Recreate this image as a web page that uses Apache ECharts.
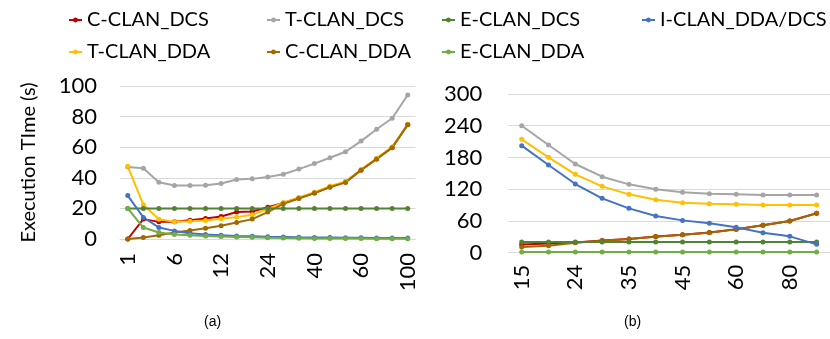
<!DOCTYPE html>
<html>
<head>
<meta charset="utf-8">
<script src="https://cdn.jsdelivr.net/npm/echarts@6/dist/echarts.min.js"></script>
<style>html,body{margin:0;padding:0;background:#fff}#c{width:830px;height:339px}</style>
</head>
<body>
<div id="c"></div>
<script>
// ---- data ----
const catsA = ['1','2','4','6','8','10','12','16','20','24','28','32','40','45','50','60','70','80','100'];
const catsB = ['15','20','24','30','35','40','45','50','60','70','80','90'];

const names = ['C-CLAN_DCS','T-CLAN_DCS','T-CLAN_DDA','C-CLAN_DDA','E-CLAN_DCS','I-CLAN_DDA/DCS','E-CLAN_DDA'];
const colors = ['#C00000','#A5A5A5','#FFC000','#A06A00','#548235','#4472C4','#70AD47'];

// chart (a)
const aC_DCS = [0, 13, 11.2, 11.2, 12.3, 13.4, 14.7, 17.6, 18, 20.7, 23.5, 26.8, 30.1, 34.1, 37.2, 45.1, 52.5, 59.8, 74.8];
const aT_DCS = [47, 46.2, 37.1, 35, 35, 35.2, 36.3, 38.9, 39.3, 40.5, 42.3, 45.7, 49.3, 53.1, 57, 64, 71.7, 78.9, 94.1];
const aT_DDA = [47.5, 22.4, 12.9, 11.2, 11.6, 12.1, 13.2, 14.3, 15.8, 19.6, 23.8, 27.2, 30.6, 34.5, 37.6, 45.4, 52.8, 60.2, 75];
const aC_DDA = [0, 1, 2.4, 4.2, 5.5, 7, 8.6, 10.8, 13, 17.6, 23, 26.5, 30, 33.8, 37, 45, 52.2, 59.7, 74.6];
const aE_DCS = [20, 20, 20, 20, 20, 20, 20, 20, 20, 20, 20, 20, 20, 20, 20, 20, 20, 20, 20];
const aI_DDA = [28.4, 14.1, 7.5, 5.3, 3.8, 3, 2.5, 2, 1.8, 1.5, 1.3, 1.1, 1, 0.9, 0.8, 0.8, 0.7, 0.7, 0.7];
const aE_DDA = [20, 7.5, 4.2, 3, 2.4, 2, 1.6, 1.3, 1.1, 0.8, 0.6, 0.5, 0.4, 0.3, 0.3, 0.3, 0.2, 0.2, 0.2];

// chart (b)
const bC_DCS = [15.5, 17.5, 19.5, 23, 26, 30.5, 34, 38, 44.2, 51.8, 60, 74.5];
const bT_DCS = [240, 203.6, 167.7, 143.7, 129.2, 119.8, 114.1, 111.6, 110.3, 109, 109, 109];
const bT_DDA = [214.3, 180.3, 148.1, 125.4, 110.3, 100.2, 94.5, 92.7, 91.4, 90.1, 90.1, 90.1];
const bC_DDA = [10.7, 13.2, 18.9, 22.7, 25.8, 30.3, 34, 37.8, 44.1, 51.7, 59.9, 74.4];
const bE_DCS = [20, 20, 20, 20, 20, 20, 20, 20, 20, 20, 20, 20];
const bI_DDA = [202.3, 165.8, 129.8, 102.7, 83.8, 69.3, 61.1, 55.5, 47.9, 37.8, 30.9, 15.8];
const bE_DDA = [1.5, 1.5, 1.5, 1.5, 1.5, 1.5, 1.5, 1.5, 1.5, 1.5, 1.5, 1.5];

const yTicksA = {min: 0, max: 100, interval: 20};
const yTicksB = {min: 0, max: 300, interval: 60};

// ---- build ----
const FONT = 'Lato';
const setA = [aC_DCS, aT_DCS, aT_DDA, aC_DDA, aE_DCS, aI_DDA, aE_DDA];
const setB = [bC_DCS, bT_DCS, bT_DDA, bC_DDA, bE_DCS, bI_DDA, bE_DDA];

function mk(data, idx, g) {
  return {
    type: 'line', name: names[idx], xAxisIndex: g, yAxisIndex: g, data: data,
    symbol: 'circle', symbolSize: 5, showSymbol: true,
    lineStyle: {width: 2, color: colors[idx]},
    itemStyle: {color: colors[idx]},
    emphasis: {disabled: true}, animation: false
  };
}
const series = [];
setA.forEach((d, i) => series.push(mk(d, i, 0)));
setB.forEach((d, i) => series.push(mk(d, i, 1)));

const legendBase = {
  orient: 'vertical', itemWidth: 13, itemHeight: 6, itemGap: 12,
  textStyle: {fontFamily: FONT, fontSize: 20, color: '#000'},
  selectedMode: false, padding: 0
};
const legends = [
  Object.assign({}, legendBase, {left: 68, top: 10, data: ['C-CLAN_DCS', 'T-CLAN_DDA']}),
  Object.assign({}, legendBase, {left: 266, top: 10, data: ['T-CLAN_DCS', 'C-CLAN_DDA']}),
  Object.assign({}, legendBase, {left: 441, top: 10, data: ['E-CLAN_DCS', 'E-CLAN_DDA']}),
  Object.assign({}, legendBase, {left: 641, top: 10, data: ['I-CLAN_DDA/DCS']})
];

const gridLine = {show: true, lineStyle: {color: '#D9D9D9', width: 1}};
const chart = echarts.init(document.getElementById('c'), null, {renderer: 'canvas'});
chart.setOption({
  backgroundColor: '#fff',
  animation: false,
  legend: legends,
  grid: [
    {left: 120, top: 86, width: 295.5, height: 153},
    {left: 508.3, top: 94, width: 321.7, height: 158.7}
  ],
  xAxis: [
    {type: 'category', gridIndex: 0, data: catsA, boundaryGap: true,
     axisTick: {show: false}, axisLine: {lineStyle: {color: '#D9D9D9'}},
     axisLabel: {interval: 2, rotate: 90, fontSize: 22, fontFamily: FONT, color: '#000', margin: 14}},
    {type: 'category', gridIndex: 1, data: catsB, boundaryGap: true,
     axisTick: {show: false}, axisLine: {lineStyle: {color: '#D9D9D9'}},
     axisLabel: {interval: 1, rotate: 90, fontSize: 22, fontFamily: FONT, color: '#000', margin: 12}}
  ],
  yAxis: [
    Object.assign({type: 'value', gridIndex: 0, splitLine: gridLine,
     axisLine: {show: false}, axisTick: {show: false},
     axisLabel: {fontSize: 22, fontFamily: FONT, color: '#000', margin: 23},
     name: 'Execution TIme (s)', nameLocation: 'middle', nameGap: 81,
     nameTextStyle: {fontSize: 20, fontFamily: FONT, color: '#000'}}, yTicksA),
    Object.assign({type: 'value', gridIndex: 1, splitLine: gridLine,
     axisLine: {show: false}, axisTick: {show: false},
     axisLabel: {fontSize: 22, fontFamily: FONT, color: '#000', margin: 26}}, yTicksB)
  ],
  graphic: [
    {type: 'text', left: 204, top: 315, style: {text: '(a)', font: '14px "Liberation Sans"', fill: '#000'}},
    {type: 'text', left: 624, top: 315, style: {text: '(b)', font: '14px "Liberation Sans"', fill: '#000'}}
  ],
  series: series
});
</script>
</body>
</html>
